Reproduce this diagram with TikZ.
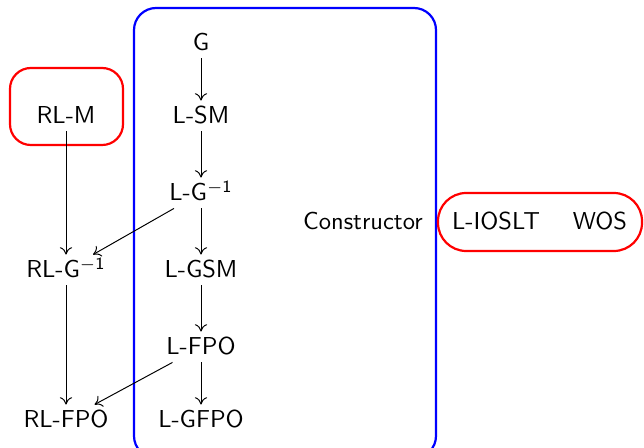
\documentclass[tikz,border=0pt]{standalone}
\usetikzlibrary{arrows.meta}
\begin{document}
\begin{tikzpicture}[x=0.408pt,y=-0.408pt,
  every node/.style={font=\sffamily, inner sep=2pt, text height=1.7ex, text depth=0.2ex},
  arr/.style={-{To[length=3pt,width=5pt]}, line width=0.4pt},
  bluebox/.style={draw=blue, line width=0.9pt, rounded corners=9pt},
  redbox/.style={draw=red, line width=0.9pt, rounded corners=8.5pt},
  pillbox/.style={draw=red, line width=0.9pt, rounded corners=11.5pt}]
\useasboundingbox (0,0) rectangle (644,448);
\begin{scope}
\clip (0,0) rectangle (644,448);
\draw[bluebox] (134,8) rectangle (436,458);
\end{scope}
\draw[redbox] (10,68) rectangle (123,145);
\draw[pillbox] (438,193) rectangle (642,251);
\node (g) at (201,43) {G};
\node (lsm) at (201,116) {L-SM};
\node (lgi) at (201,193) {L-G\textsuperscript{$-$1}};
\node (lgsm) at (201,270) {L-GSM};
\node (lfpo) at (201,347) {L-FPO};
\node (lgfpo) at (201,420) {L-GFPO};
\node (rlm) at (66,116) {RL-M};
\node (rlgi) at (66,270) {RL-G\textsuperscript{$-$1}};
\node (rlfpo) at (66,420) {RL-FPO};
\node (con) at (363,222) {Constructor};
\node (ioslt) at (496,222) {L-IOSLT};
\node (wos) at (600,222) {WOS};
\draw[arr] (g) -- (lsm);
\draw[arr] (lsm) -- (lgi);
\draw[arr] (lgi) -- (lgsm);
\draw[arr] (lgsm) -- (lfpo);
\draw[arr] (lfpo) -- (lgfpo);
\draw[arr] (rlm) -- (rlgi);
\draw[arr] (rlgi) -- (rlfpo);
\draw[arr] (lgi) -- (rlgi);
\draw[arr] (lfpo) -- (rlfpo);
\end{tikzpicture}
\end{document}
